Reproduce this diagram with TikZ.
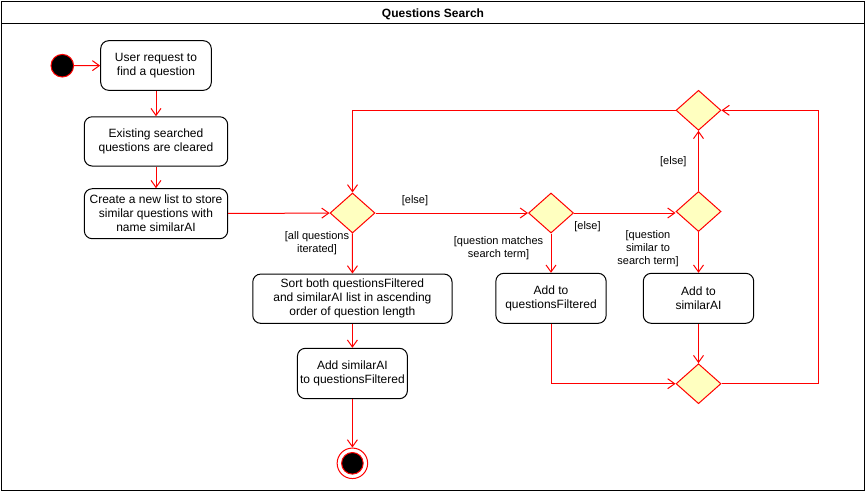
\documentclass[tikz,border=0pt]{standalone}
\usepackage{fontspec}
\setmainfont{Liberation Sans}
\usetikzlibrary{shapes.geometric,arrows.meta}
\definecolor{lnred}{HTML}{FF0000}
\definecolor{dfill}{HTML}{FFFFC0}
\begin{document}
\begin{tikzpicture}[x=1pt,y=-1pt,
  actbox/.style={draw=black, line width=1pt, rounded corners=8pt, align=center,
    inner sep=0pt, font=\fontsize{12}{14}\selectfont},
  decis/.style={diamond, draw=lnred, fill=dfill, line width=1pt, inner sep=0pt,
    minimum width=45pt, minimum height=40pt},
  guard/.style={align=center, inner sep=0pt, font=\fontsize{11}{13.3}\selectfont},
  flow/.style={draw=lnred, line width=1pt, -{Straight Barb[length=7pt,width=10pt,line width=1pt]}},
  plainflow/.style={draw=lnred, line width=1pt}
]
\useasboundingbox (0,0) rectangle (866,491);
% frame
\draw[line width=1pt] (1,1) rectangle (864,490);
\draw[line width=1pt] (1,23.3) -- (864,23.3);
\node[font=\bfseries\fontsize{12}{14}\selectfont, inner sep=0pt] (title) at (433,14) {Questions Search};

% nodes
\node[circle, draw=lnred, fill=black, line width=1pt, minimum size=22.6pt, inner sep=0pt] (start) at (62.3,65.7) {};
\node[actbox, minimum width=110.6pt, minimum height=49.6pt] (b1) at (156,65.5) {User request to\\find a question};
\node[actbox, minimum width=143.4pt, minimum height=49.3pt] (b2) at (156,141.4) {Existing searched\\questions are cleared};
\node[actbox, minimum width=143.4pt, minimum height=50pt] (b3) at (156,213.7) {Create a new list to store\\similar questions with\\name similarAI};

\node[decis] (d1) at (352.5,213) {};
\node[decis] (d2) at (551,213) {};
\node[decis] (d3) at (698.5,211.5) {};
\node[decis] (top) at (698.5,110.3) {};
\node[decis] (merge) at (698.5,383.7) {};

\node[actbox, minimum width=199.3pt, minimum height=49.3pt] (sort) at (352.4,298.7) {Sort both questionsFiltered\\and similarAI list in ascending\\order of question length};
\node[actbox, minimum width=110pt, minimum height=50.4pt] (addai) at (352.4,373.5) {Add similarAI\\to questionsFiltered};
\node[circle, draw=lnred, fill=white, line width=1pt, minimum size=30.5pt, inner sep=0pt] (end) at (352.4,463.3) {};
\node[circle, draw=lnred, fill=black, line width=1pt, minimum size=21.6pt, inner sep=0pt] (endin) at (end.center) {};

\node[actbox, minimum width=110.3pt, minimum height=50pt] (qf) at (551,298.3) {Add to\\questionsFiltered};
\node[actbox, minimum width=110.4pt, minimum height=50pt] (sai) at (698.5,298.3) {Add to\\similarAI};

\coordinate (rc) at (818.7,110.3);

% guards
\node[guard] (g1) at (415,201) {[else]};
\node[guard] (g2) at (587.5,226.7) {[else]};
\node[guard] (g3) at (673.3,161.7) {[else]};
\node[guard] (g4) at (317,243.3) {[all questions\\iterated]};
\node[guard] (g5) at (498.5,248) {[question matches\\search term]};
\node[guard] (g6) at (648,248.5) {[question\\similar to\\search term]};

% connectors
\draw[flow] (start) -- (b1);
\draw[flow] (b1) -- (b2);
\draw[flow] (b2) -- (b3);
\draw[flow] (b3) -- (d1);
\draw[flow] (d1) -- (d2);
\draw[flow] (d2.east) -- (d3.west |- d2.east);
\draw[flow] (d3) -- (top);
\draw[flow] (top.west) -| (d1.north);
\draw[flow] (d1) -- (sort);
\draw[flow] (sort) -- (addai);
\draw[flow] (addai) -- (end);
\draw[flow] (d2) -- (qf);
\draw[flow] (d3) -- (sai);
\draw[flow] (sai) -- (merge);
\draw[flow] (qf.south) |- (merge.west);
\draw[flow] (merge.east) -| (rc) -- (top.east);
\end{tikzpicture}
\end{document}
